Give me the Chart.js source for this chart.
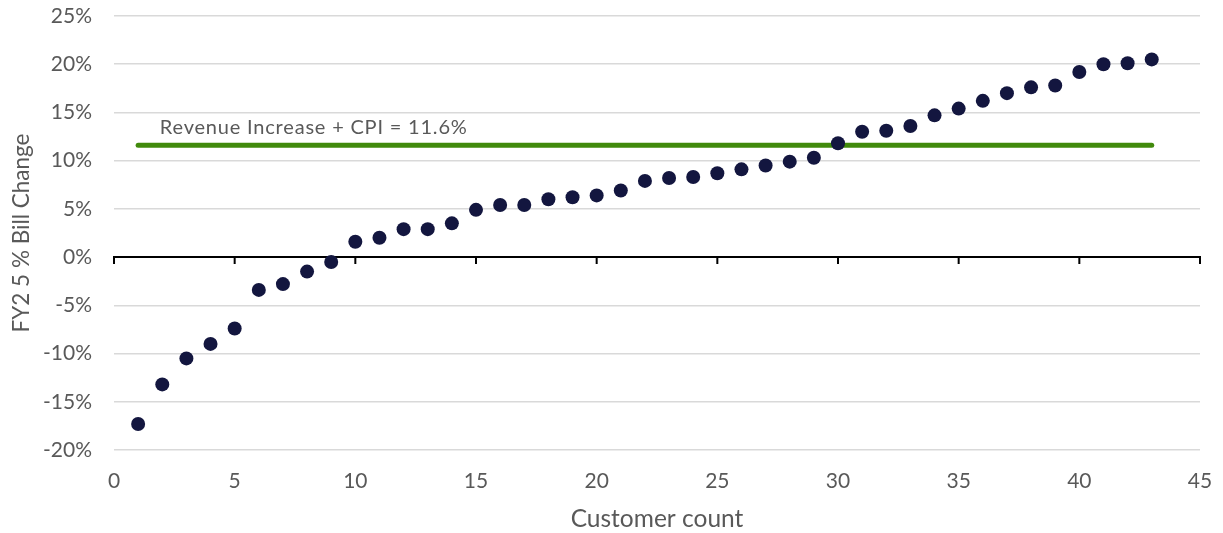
<!DOCTYPE html>
<html>
<head>
<meta charset="utf-8">
<title>FY25 % Bill Change by Customer</title>
<script src="https://cdn.jsdelivr.net/npm/chart.js@4.4.1/dist/chart.umd.min.js"></script>
<style>
  html, body { margin: 0; padding: 0; background: #ffffff; }
  #wrap { width: 1223px; height: 533px; position: relative; }
</style>
</head>
<body>
<div id="wrap"><canvas id="chart"></canvas></div>
<script>
// Customers ranked by bill change
const customers = [1, 2, 3, 4, 5, 6, 7, 8, 9, 10, 11, 12, 13, 14, 15, 16, 17, 18, 19, 20,
  21, 22, 23, 24, 25, 26, 27, 28, 29, 30, 31, 32, 33, 34, 35, 36, 37, 38, 39, 40, 41, 42, 43];

// FY25 % bill change per customer
const billChange = [-17.3, -13.2, -10.5, -9.0, -7.4, -3.4, -2.8, -1.5, -0.5, 1.6,
  2.0, 2.9, 2.9, 3.5, 4.9, 5.4, 5.4, 6.0, 6.2, 6.4,
  6.9, 7.9, 8.2, 8.3, 8.7, 9.1, 9.5, 9.9, 10.3, 11.8,
  13.0, 13.1, 13.6, 14.7, 15.4, 16.2, 17.0, 17.6, 17.8, 19.2,
  20.0, 20.1, 20.5];

// Revenue increase + CPI reference level
const thresholdValue = 11.6;
const thresholdSpan = [1, 43];
const thresholdLabel = 'Revenue Increase + CPI = 11.6%';

// Axis tick values
const xTicks = [0, 5, 10, 15, 20, 25, 30, 35, 40, 45];
const yTicks = [-20, -15, -10, -5, 0, 5, 10, 15, 20, 25];

const FONT = 'Lato, "Open Sans", "DejaVu Sans", sans-serif';
const TEXT_GREY = '#595959';

const customerPoints = customers.map((c, i) => ({ x: c, y: billChange[i] }));
const thresholdPoints = thresholdSpan.map(x => ({ x: x, y: thresholdValue }));

// Horizontal axis drawn through zero, with downward tick marks, plus the threshold caption
const zeroAxisPlugin = {
  id: 'zeroAxis',
  beforeDatasetsDraw(chart) {
    const { ctx, scales: { x, y } } = chart;
    const y0 = y.getPixelForValue(0);
    ctx.save();
    ctx.strokeStyle = '#000000';
    ctx.lineWidth = 2;
    ctx.beginPath();
    ctx.moveTo(x.left, y0);
    ctx.lineTo(x.right, y0);
    ctx.stroke();
    ctx.beginPath();
    xTicks.forEach(v => {
      const px = x.getPixelForValue(v);
      ctx.moveTo(px, y0 - 1);
      ctx.lineTo(px, y0 + 7);
    });
    ctx.stroke();
    ctx.restore();
  },
  afterDatasetsDraw(chart) {
    const { ctx, scales: { x, y } } = chart;
    ctx.save();
    ctx.font = '20px ' + FONT;
    if ('letterSpacing' in ctx) ctx.letterSpacing = '0.8px';
    ctx.fillStyle = TEXT_GREY;
    ctx.textAlign = 'left';
    ctx.textBaseline = 'middle';
    ctx.fillText(thresholdLabel, x.getPixelForValue(1.9), y.getPixelForValue(13.45));
    ctx.restore();
  }
};

new Chart(document.getElementById('chart'), {
  type: 'scatter',
  data: {
    datasets: [
      {
        label: 'FY25 % Bill Change',
        data: customerPoints,
        backgroundColor: '#13163f',
        borderColor: '#13163f',
        pointRadius: 7,
        pointHoverRadius: 7,
        borderWidth: 0
      },
      {
        label: thresholdLabel,
        data: thresholdPoints,
        showLine: true,
        borderColor: '#418a0c',
        backgroundColor: '#418a0c',
        borderWidth: 5,
        borderCapStyle: 'round',
        pointRadius: 0,
        pointHoverRadius: 0
      }
    ]
  },
  options: {
    responsive: true,
    maintainAspectRatio: false,
    animation: false,
    layout: { autoPadding: false, padding: { left: 0, top: 16, right: 23, bottom: 0 } },
    plugins: {
      legend: { display: false },
      tooltip: { enabled: false }
    },
    scales: {
      x: {
        type: 'linear',
        min: 0,
        max: 45,
        afterFit(scale) {
          scale.height = 83;
          scale.paddingLeft = 0;
          scale.paddingRight = 0;
        },
        afterBuildTicks(scale) { scale.ticks = xTicks.map(v => ({ value: v })); },
        border: { display: false },
        grid: { display: false, drawTicks: false },
        ticks: {
          padding: 19,
          color: TEXT_GREY,
          font: { family: FONT, size: 21 },
          maxRotation: 0
        },
        title: {
          display: true,
          text: 'Customer count',
          color: TEXT_GREY,
          font: { family: FONT, size: 24.5 },
          padding: { top: 0, bottom: -1 }
        }
      },
      y: {
        type: 'linear',
        min: -20,
        max: 25,
        afterFit(scale) {
          scale.width = 114;
          scale.paddingTop = 0;
          scale.paddingBottom = 0;
        },
        afterBuildTicks(scale) { scale.ticks = yTicks.map(v => ({ value: v })); },
        border: { display: false },
        grid: {
          drawTicks: false,
          lineWidth: 1.5,
          color: ctx => (ctx.tick && ctx.tick.value === 0) ? 'rgba(0,0,0,0)' : '#d9d9d9'
        },
        ticks: {
          padding: 22,
          color: TEXT_GREY,
          font: { family: FONT, size: 21 },
          callback: v => v + '%'
        },
        title: {
          display: true,
          text: 'FY2 5 % Bill Change',
          color: TEXT_GREY,
          font: { family: FONT, size: 22.5 },
          padding: { top: 8, bottom: 0 }
        }
      }
    }
  },
  plugins: [zeroAxisPlugin]
});
</script>
</body>
</html>
